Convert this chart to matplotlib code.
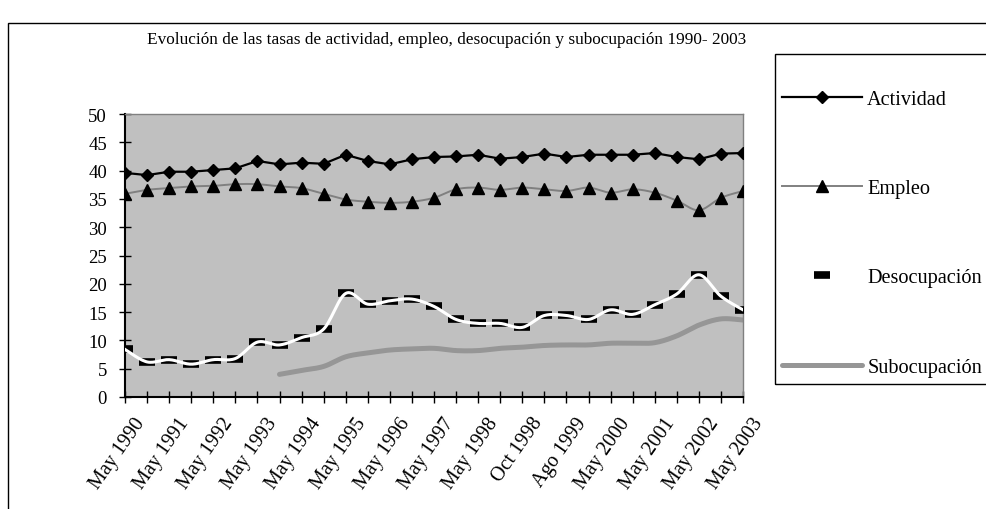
import matplotlib
matplotlib.use("Agg")
import matplotlib.pyplot as plt
from matplotlib.lines import Line2D
from matplotlib.patches import Rectangle
from matplotlib.transforms import ScaledTranslation
import numpy as np

plt.rcParams['font.family'] = ['Liberation Serif', 'DejaVu Serif']

# ondas de la EPH (mayo / agosto / octubre)
periodos = ['May 1990', 'Oct 1990', 'May 1991', 'Oct 1991', 'May 1992', 'Oct 1992',
            'May 1993', 'Oct 1993', 'May 1994', 'Oct 1994', 'May 1995', 'Oct 1995',
            'May 1996', 'Oct 1996', 'May 1997', 'Oct 1997', 'May 1998', 'Ago 1998',
            'Oct 1998', 'May 1999', 'Ago 1999', 'Oct 1999', 'May 2000', 'Oct 2000',
            'May 2001', 'Oct 2001', 'May 2002', 'Oct 2002', 'May 2003']

actividad = [39.6, 39.2, 39.8, 39.8, 40.1, 40.4, 41.7, 41.1, 41.4, 41.2,
             42.8, 41.7, 41.1, 42.0, 42.4, 42.5, 42.8, 42.1, 42.4, 43.0,
             42.4, 42.8, 42.8, 42.8, 43.1, 42.4, 42.0, 43.0, 43.1]
empleo = [35.9, 36.6, 36.9, 37.2, 37.3, 37.6, 37.6, 37.2, 36.9, 35.9,
          34.9, 34.5, 34.3, 34.5, 35.2, 36.7, 37.0, 36.6, 37.0, 36.7,
          36.4, 37.0, 36.1, 36.7, 36.1, 34.7, 33.0, 35.2, 36.4]
desocupacion = [8.4, 6.2, 6.6, 5.8, 6.6, 6.8, 9.7, 9.2, 10.5, 12.0,
                18.3, 16.4, 17.0, 17.3, 16.0, 13.7, 13.0, 13.0, 12.3, 14.4,
                14.4, 13.7, 15.4, 14.6, 16.3, 18.2, 21.6, 17.8, 15.4]
# la serie de subocupacion empieza en Oct 1993
subocupacion = [None] * 7 + [4.0, 4.7, 5.4, 7.1, 7.8, 8.3, 8.5, 8.6, 8.2,
                             8.2, 8.6, 8.8, 9.1, 9.2, 9.2, 9.5, 9.5, 9.6,
                             10.8, 12.7, 13.8, 13.6]


def suave(xs, ys, n=16):
    # linea suavizada tipo Excel (bezier con tangentes catmull-rom)
    p = np.column_stack([xs, ys]).astype(float)
    p = np.vstack([p[0], p, p[-1]])
    t = np.linspace(0, 1, n)[:, None]
    out = []
    for i in range(1, len(p) - 2):
        p0, p1, p2, p3 = p[i - 1], p[i], p[i + 1], p[i + 2]
        b1 = p1 + (p2 - p0) / 6
        b2 = p2 - (p3 - p1) / 6
        seg = ((1 - t) ** 3) * p1 + 3 * ((1 - t) ** 2) * t * b1 + 3 * (1 - t) * t ** 2 * b2 + t ** 3 * p2
        out.append(seg)
    c = np.vstack(out)
    return c[:, 0], c[:, 1]


x = np.arange(len(periodos))

fig = plt.figure(figsize=(9.87, 5.10), dpi=100)
ax = fig.add_axes([125 / 987, 1 - 398 / 510, 618 / 987, 283 / 510])
ax.set_facecolor('#C0C0C0')

# actividad
ax.plot(x, actividad, color='black', lw=1.6, marker='D', ms=6, mfc='black', mec='black', zorder=5)

# empleo
ex, ey = suave(x, empleo)
ax.plot(ex, ey, color='#808080', lw=1.4, zorder=3)
ax.plot(x, empleo, ls='none', marker='^', ms=9, color='black', zorder=4)

# subocupacion
xs = [i for i, v in enumerate(subocupacion) if v is not None]
ys = [v for v in subocupacion if v is not None]
sx, sy = suave(xs, ys)
ax.plot(sx, sy, color='#969696', lw=3.6, solid_capstyle='round', zorder=2)

# desocupacion
ax.plot(x, desocupacion, ls='none', marker='_', ms=11.5, mew=5.5, color='black', zorder=6)
dx, dy = suave(x, desocupacion)
ax.plot(dx, dy, color='white', lw=2.2, zorder=7)

ax.set_xlim(0, len(periodos) - 1)
ax.set_ylim(0, 50)
ax.set_yticks(range(0, 51, 5))
ax.set_xticks(x)
ax.set_xticklabels([p if i % 2 == 0 else '' for i, p in enumerate(periodos)],
                   rotation=55, ha='right', rotation_mode='anchor', fontsize=14.5)
ax.tick_params(axis='y', labelsize=13.5, direction='inout', length=8, width=1, pad=9)
ax.tick_params(axis='x', direction='inout', length=8, width=1, pad=8)
desplaza = ScaledTranslation(6 / 72, 0, fig.dpi_scale_trans)
for lab in ax.get_xticklabels():
    lab.set_transform(lab.get_transform() + desplaza)

for s in ['left', 'bottom']:
    ax.spines[s].set_color('black')
    ax.spines[s].set_linewidth(1.5)
for s in ['top', 'right']:
    ax.spines[s].set_color('#808080')
    ax.spines[s].set_linewidth(1)

fig.text(447 / 987, 1 - 40 / 510, 'Evolución de las tasas de actividad, empleo, desocupación y subocupación 1990- 2003',
         ha='center', va='center', fontsize=12.4)

# marco exterior del grafico
fig.patches.append(Rectangle((8 / 987, -0.1), 1.1, 1 - 24 / 510 + 0.1, transform=fig.transFigure,
                             fill=False, edgecolor='black', lw=1))
# marco de la leyenda
fig.patches.append(Rectangle((775 / 987, 1 - 385 / 510), 0.3, 330 / 510, transform=fig.transFigure,
                             fill=False, edgecolor='black', lw=1))

handles = [
    Line2D([], [], color='black', lw=1.6, marker='D', ms=6),
    Line2D([], [], color='#808080', lw=1.4, marker='^', ms=9, mfc='black', mec='black'),
    Line2D([], [], ls='none', marker='_', ms=11.5, mew=5.5, color='black'),
    Line2D([], [], color='#969696', lw=3.6, solid_capstyle='round'),
]
leg = fig.legend(handles, ['Actividad', 'Empleo', 'Desocupación', 'Subocupación'],
                 loc='upper left', bbox_to_anchor=(782 / 987, 1 - 91 / 510),
                 fontsize=14.6, frameon=False,
                 handlelength=3.95, handletextpad=0.25, labelspacing=3.45,
                 borderpad=0, borderaxespad=0, numpoints=1)

fig.savefig('out.png', dpi=100)
